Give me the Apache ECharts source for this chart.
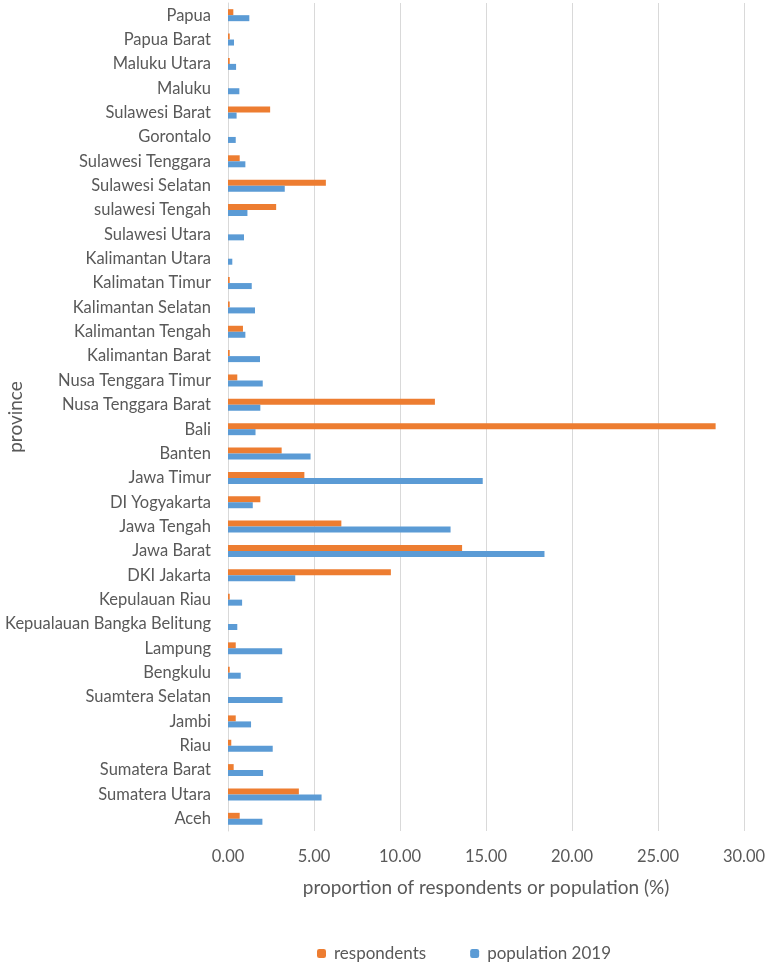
<!DOCTYPE html>
<html>
<head>
<meta charset="utf-8">
<script src="https://cdn.jsdelivr.net/npm/echarts@6/dist/echarts.min.js"></script>
<style>
  html, body { margin: 0; padding: 0; background: #fff; }
  #chart { width: 767px; height: 964px; }
</style>
</head>
<body>
<div id="chart"></div>
<script>
// provinces, bottom (Aceh) to top (Papua)
const provinces = [
  'Aceh', 'Sumatera Utara', 'Sumatera Barat', 'Riau', 'Jambi', 'Suamtera Selatan',
  'Bengkulu', 'Lampung', 'Kepualauan Bangka Belitung', 'Kepulauan Riau', 'DKI Jakarta',
  'Jawa Barat', 'Jawa Tengah', 'DI Yogyakarta', 'Jawa Timur', 'Banten', 'Bali',
  'Nusa Tenggara Barat', 'Nusa Tenggara Timur', 'Kalimantan Barat', 'Kalimantan Tengah',
  'Kalimantan Selatan', 'Kalimatan Timur', 'Kalimantan Utara', 'Sulawesi Utara',
  'sulawesi Tengah', 'Sulawesi Selatan', 'Sulawesi Tenggara', 'Gorontalo',
  'Sulawesi Barat', 'Maluku', 'Maluku Utara', 'Papua Barat', 'Papua'
];

const respondents = [
  0.68, 4.12, 0.33, 0.19, 0.45, 0,
  0.1, 0.45, 0, 0.1, 9.47,
  13.61, 6.59, 1.88, 4.44, 3.12, 28.35,
  12.03, 0.54, 0.1, 0.87,
  0.1, 0.1, 0, 0,
  2.80, 5.69, 0.68, 0,
  2.45, 0, 0.1, 0.1, 0.31
];

const population2019 = [
  2.00, 5.44, 2.04, 2.60, 1.34, 3.17,
  0.74, 3.15, 0.54, 0.82, 3.91,
  18.40, 12.94, 1.44, 14.81, 4.80, 1.60,
  1.88, 2.02, 1.86, 1.01,
  1.57, 1.38, 0.25, 0.93,
  1.13, 3.30, 1.01, 0.45,
  0.50, 0.66, 0.47, 0.35, 1.24
];

const textColor = '#595959';
const font = 'Lato';

const chart = echarts.init(document.getElementById('chart'));

chart.setOption({
  animation: false,
  textStyle: { fontFamily: font },
  grid: {
    left: 228,
    right: 23,
    top: 3,
    height: 828,
    containLabel: false,
    outerBoundsMode: 'none'
  },
  legend: {
    top: 940,
    left: 312,
    itemWidth: 9,
    itemHeight: 9,
    itemGap: 44,
    textStyle: { color: textColor, fontSize: 17, fontFamily: font, padding: [0, 0, 0, 3] },
    data: ['respondents', 'population 2019']
  },
  xAxis: {
    type: 'value',
    min: 0,
    max: 30,
    interval: 5,
    name: 'proportion of respondents or population (%)',
    nameLocation: 'middle',
    nameGap: 47,
    nameTextStyle: { color: textColor, fontSize: 19, fontFamily: font },
    axisLine: { show: false },
    axisTick: { show: false },
    axisLabel: {
      color: textColor,
      fontSize: 16.5,
      margin: 17,
      formatter: v => v.toFixed(2)
    },
    splitLine: { lineStyle: { color: '#d9d9d9', width: 1 } }
  },
  yAxis: {
    type: 'category',
    data: provinces,
    name: 'province',
    nameLocation: 'middle',
    nameGap: 203,
    nameRotate: 90,
    nameMoveOverlap: false,
    nameTextStyle: { color: textColor, fontSize: 19, fontFamily: font },
    axisLine: { show: true, lineStyle: { color: '#d9d9d9' } },
    axisTick: { show: false },
    axisLabel: { color: textColor, fontSize: 16.5, margin: 17 }
  },
  series: [
    {
      name: 'respondents',
      type: 'bar',
      data: respondents,
      barWidth: 6,
      barGap: '0%',
      itemStyle: { color: '#ED7D31' }
    },
    {
      name: 'population 2019',
      type: 'bar',
      data: population2019,
      barWidth: 6,
      barGap: '0%',
      itemStyle: { color: '#5B9BD5' }
    }
  ]
});
</script>
</body>
</html>
